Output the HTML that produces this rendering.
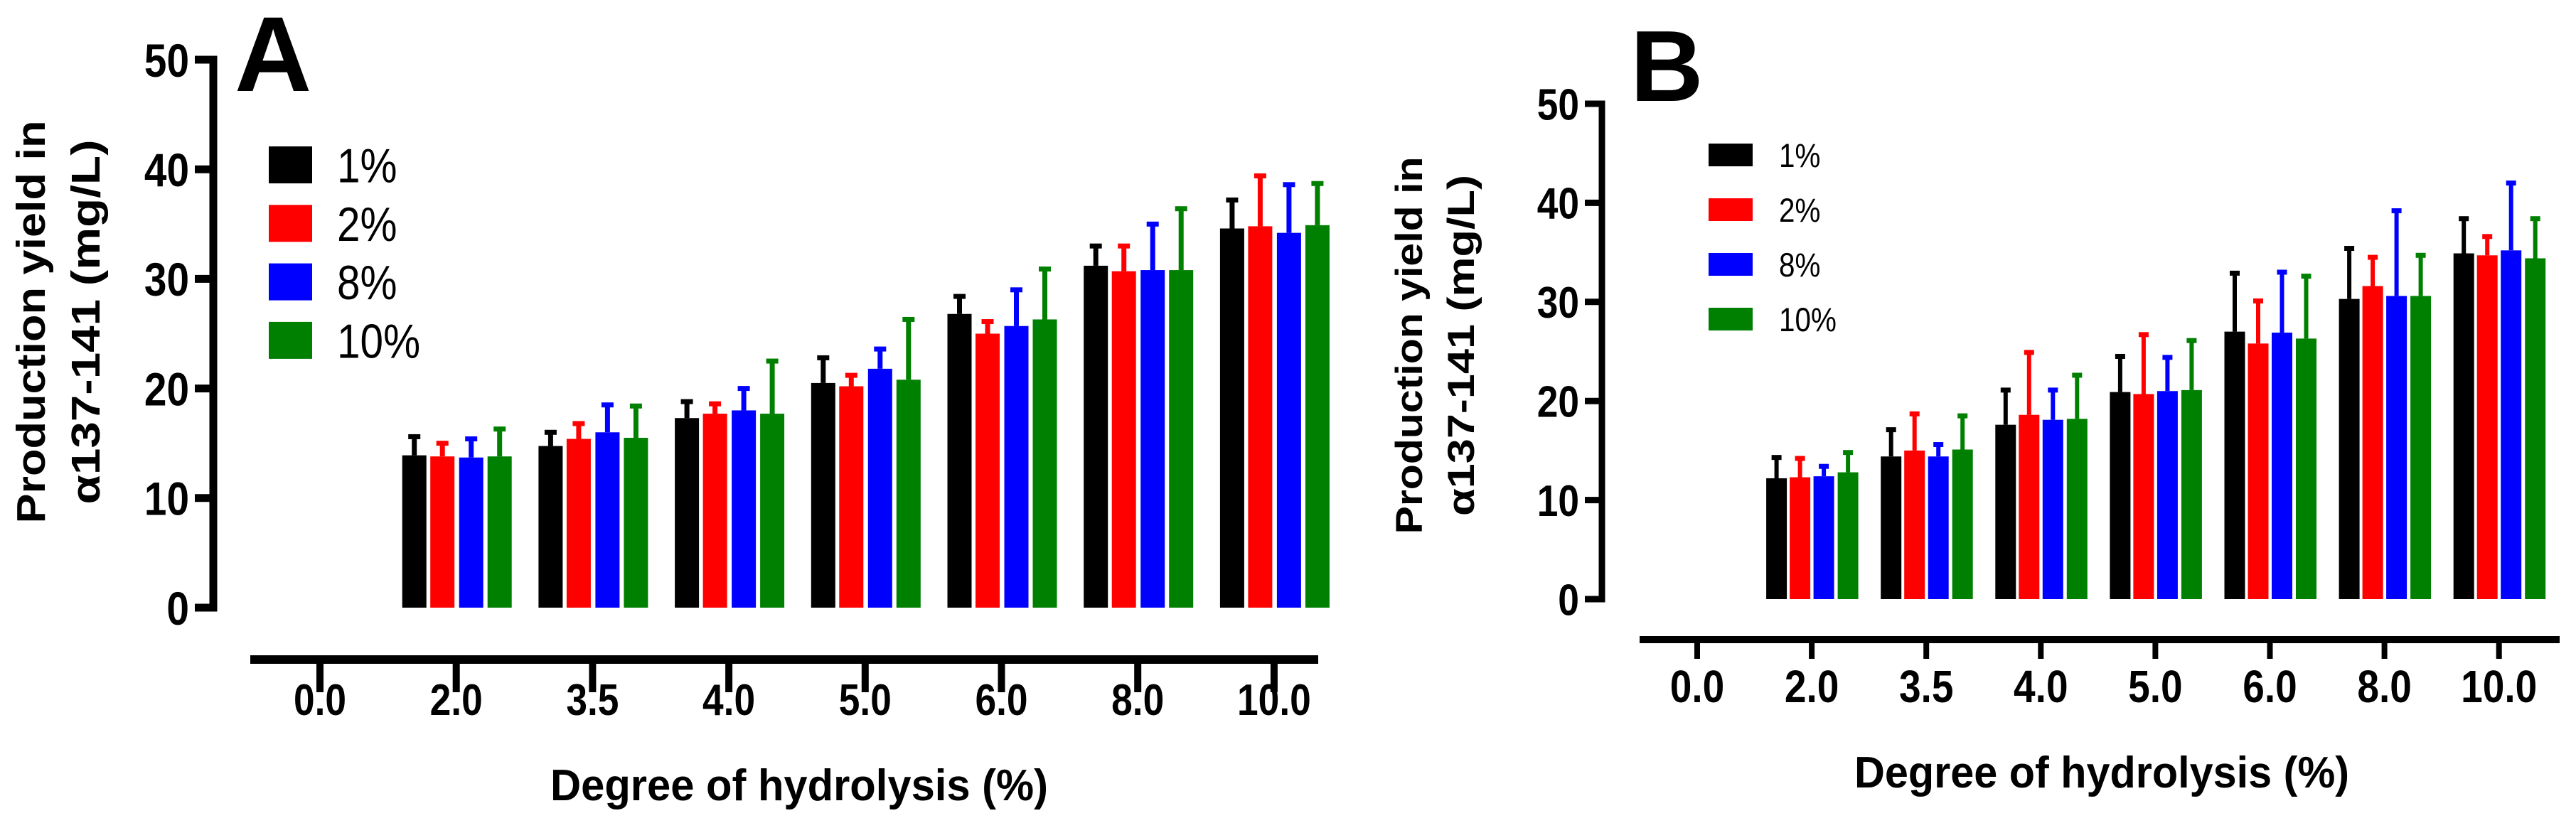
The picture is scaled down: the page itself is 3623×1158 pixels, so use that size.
<!DOCTYPE html>
<html><head><meta charset="utf-8"><style>
html,body{margin:0;padding:0;background:#fff;}
svg{display:block;}
text{font-family:"Liberation Sans",Arial,sans-serif;}
</style></head>
<body>
<svg id="chart" width="3623" height="1158" viewBox="0 0 3623 1158" xmlns="http://www.w3.org/2000/svg">
<g id="panelA"></g>
<g id="panelB"></g>
</svg>
<script>
const categories = ["0.0","2.0","3.5","4.0","5.0","6.0","8.0","10.0"];
const seriesNames = ["1%","2%","8%","10%"];
const seriesColors = ["#000000","#ff0000","#0000ff","#008000"];
const yTicks = [0,10,20,30,40,50];
// Panel A means (null = no bar)
const a1 = [null,13.9,14.75,17.3,20.5,26.8,31.2,34.6];
const a2 = [null,13.8,15.4,17.7,20.2,25.0,30.7,34.8];
const a8 = [null,13.7,16.0,18.0,21.8,25.7,30.8,34.2];
const a10 = [null,13.8,15.5,17.7,20.8,26.3,30.8,34.9];
// Panel A error-bar tops
const a1e = [null,15.6,16.0,18.8,22.8,28.4,33.0,37.2];
const a2e = [null,15.0,16.8,18.6,21.2,26.1,33.0,39.4];
const a8e = [null,15.4,18.5,20.0,23.6,29.0,35.0,38.6];
const a10e = [null,16.3,18.4,22.5,26.3,30.9,36.4,38.7];
// Panel B means
const b1 = [null,12.2,14.4,17.6,20.9,27.0,30.3,34.9];
const b2 = [null,12.3,15.0,18.6,20.7,25.8,31.6,34.7];
const b8 = [null,12.4,14.4,18.1,21.0,26.9,30.6,35.2];
const b10 = [null,12.8,15.1,18.2,21.1,26.3,30.6,34.4];
// Panel B error-bar tops
const b1e = [null,14.3,17.1,21.1,24.5,32.9,35.4,38.4];
const b2e = [null,14.2,18.7,24.9,26.7,30.1,34.5,36.6];
const b8e = [null,13.4,15.6,21.1,24.4,33.0,39.2,42.0];
const b10e = [null,14.8,18.5,22.6,26.1,32.6,34.7,38.4];

const NS = "http://www.w3.org/2000/svg";
function mk(parent, tag, attrs, txt){
  const e = document.createElementNS(NS, tag);
  for (const k in attrs) e.setAttribute(k, attrs[k]);
  if (txt !== undefined) e.textContent = txt;
  parent.appendChild(e);
  return e;
}
function squeeze(t, f){
  try { const w = t.getComputedTextLength(); if (w>0){ t.setAttribute('textLength', (w*f).toFixed(1)); t.setAttribute('lengthAdjust','spacingAndGlyphs'); } } catch(e){}
}

function drawPanel(g, cfg, means, errs){
  const ys = v => cfg.y0 - (v/50)*(cfg.y0 - cfg.y50);
  const xs = i => cfg.x0 + i*cfg.step;
  let e = mk(g,'line',{x1:cfg.ax,y1:ys(50)-cfg.aw/2,x2:cfg.ax,y2:ys(0)+cfg.aw/2,stroke:'#000','stroke-width':cfg.aw});
   
  yTicks.forEach(t=>{
    const y = ys(t);
    let tk = mk(g,'line',{x1:cfg.ax-cfg.tickLen,y1:y,x2:cfg.ax,y2:y,stroke:'#000','stroke-width':cfg.aw});
     
    let tl = mk(g,'text',{x:cfg.ax-cfg.tickLen-8,y:y+cfg.yTickFs*0.36,'text-anchor':'end','font-size':cfg.yTickFs,'font-weight':'bold'},String(t));
     
    squeeze(tl,0.86);
  });
  e = mk(g,'line',{x1:cfg.xa0,y1:cfg.xay,x2:cfg.xa1,y2:cfg.xay,stroke:'#000','stroke-width':cfg.xaw});
   
  categories.forEach((c,i)=>{
    const x = xs(i);
    let tk = mk(g,'line',{x1:x,y1:cfg.xay,x2:x,y2:cfg.xay+cfg.xTickLen,stroke:'#000','stroke-width':cfg.xtw});
     
    let tl = mk(g,'text',{x:x,y:cfg.xLabY,'text-anchor':'middle','font-size':cfg.xTickFs,'font-weight':'bold'},c);
     
    squeeze(tl,0.86);
  });
  for (let s=0;s<4;s++){
    for (let i=0;i<categories.length;i++){
      const v = means[s][i];
      if (v===null) continue;
      const cx = xs(i) + cfg.offsets[s];
      const r = mk(g,'rect',{x:cx-cfg.bw/2,y:ys(v),width:cfg.bw,height:ys(0)-ys(v),fill:seriesColors[s]});
      
      
      const et = errs[s][i];
      const el = mk(g,'line',{x1:cx,y1:ys(v),x2:cx,y2:ys(et),stroke:seriesColors[s],'stroke-width':cfg.ew});
      
      
      const ec = mk(g,'rect',{x:cx-cfg.capW/2,y:ys(et)-cfg.capH/2,width:cfg.capW,height:cfg.capH,fill:seriesColors[s]});
      
      
    }
  }
  seriesNames.forEach((n,s)=>{
    const y = cfg.legY + s*cfg.legStep;
    const sq = mk(g,'rect',{x:cfg.legX,y:y,width:cfg.legW,height:cfg.legH,fill:seriesColors[s]});
    
    
    const lt = mk(g,'text',{x:cfg.legTx,y:y+cfg.legH/2+cfg.legFs*0.36,'font-size':cfg.legFs},n);
    
    
    squeeze(lt,0.86);
  });
  let t = mk(g,'text',{x:cfg.xtX,y:cfg.xtY,'text-anchor':'middle','font-size':cfg.xtFs,'font-weight':'bold',textLength:cfg.xtLen,lengthAdjust:'spacingAndGlyphs'},'Degree of hydrolysis (%)');
   
  t = mk(g,'text',{x:0,y:0,'text-anchor':'middle','font-size':cfg.ytFs,'font-weight':'bold',transform:`translate(${cfg.yt1x},${cfg.ytCy}) rotate(-90)`,textLength:cfg.yt1Len,lengthAdjust:'spacingAndGlyphs'},'Production yield in');
   
  t = mk(g,'text',{x:0,y:0,'text-anchor':'middle','font-size':cfg.ytFs,'font-weight':'bold',transform:`translate(${cfg.yt2x},${cfg.ytCy}) rotate(-90)`,textLength:cfg.yt2Len,lengthAdjust:'spacingAndGlyphs'},'α137-141 (mg/L)');
   
  t = mk(g,'text',{x:cfg.letX,y:cfg.letY,'font-size':cfg.letFs,'font-weight':'bold'},cfg.letter);
   
}

drawPanel(document.getElementById('panelA'),{
  y0:855,y50:84,ax:300,aw:11,tickLen:26,yTickFs:66,
  x0:450,step:191.7,xa0:352,xa1:1854,xay:928,xaw:12,xtw:10,xTickLen:46,xTickFs:62,xLabY:1006,
  bw:34,offsets:[-59,-19.5,21,61],ew:7,capW:17,capH:7,
  legX:378,legY:206,legW:61,legH:52,legStep:82.3,legTx:474,legFs:68,
  xtX:1124,xtY:1126,xtFs:62,xtLen:700,
  yt1x:63,yt2x:140,ytCy:453,ytFs:57,yt1Len:567,yt2Len:513,
  letX:330,letY:128,letFs:150,letter:'A'
},[a1,a2,a8,a10],[a1e,a2e,a8e,a10e]);

drawPanel(document.getElementById('panelB'),{
  y0:843,y50:146,ax:2253,aw:9,tickLen:24,yTickFs:62,
  x0:2387,step:161.1,xa0:2306,xa1:3600,xay:900,xaw:10,xtw:8,xTickLen:27,xTickFs:64,xLabY:988,
  bw:29,offsets:[-49.5,-16.5,17,51],ew:6,capW:14,capH:7,
  legX:2403,legY:202,legW:62,legH:32,legStep:77,legTx:2502,legFs:47,
  xtX:2956,xtY:1108,xtFs:62,xtLen:696,
  yt1x:2000,yt2x:2073,ytCy:486,ytFs:53,yt1Len:531,yt2Len:480,
  letX:2293,letY:142,letFs:142,letter:'B'
},[b1,b2,b8,b10],[b1e,b2e,b8e,b10e]);
</script>
</body></html>
